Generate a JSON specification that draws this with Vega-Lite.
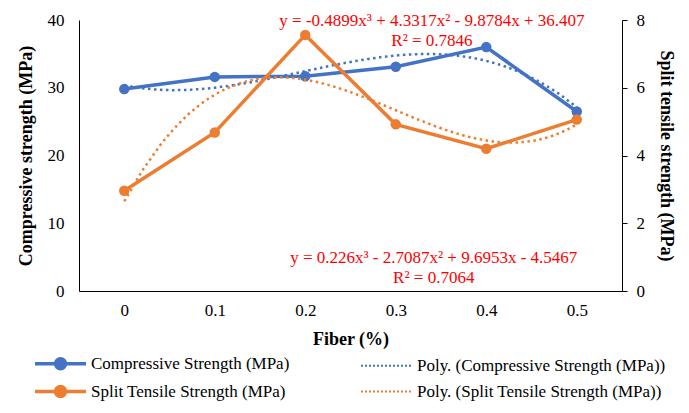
{
  "$schema": "https://vega.github.io/schema/vega-lite/v6.json",
  "width": 543,
  "height": 271,
  "autosize": {"type": "none"},
  "padding": {"left": 79, "top": 20, "right": 67, "bottom": 122},
  "background": "white",
  "datasets": {
    "strength": [
      {"fiber": 0, "compressive": 29.8, "split": 2.96},
      {"fiber": 0.1, "compressive": 31.6, "split": 4.68},
      {"fiber": 0.2, "compressive": 31.7, "split": 7.56},
      {"fiber": 0.3, "compressive": 33.1, "split": 4.92},
      {"fiber": 0.4, "compressive": 36.0, "split": 4.2},
      {"fiber": 0.5, "compressive": 26.5, "split": 5.06}
    ],
    "equations": [
      {"fiber": 0.34, "level": 39.85, "label": "y = -0.4899x³ + 4.3317x² - 9.8784x + 36.407"},
      {"fiber": 0.34, "level": 36.9, "label": "R² = 0.7846"},
      {"fiber": 0.342, "level": 4.87, "label": "y = 0.226x³ - 2.7087x² + 9.6953x - 4.5467"},
      {"fiber": 0.342, "level": 1.9, "label": "R² = 0.7064"}
    ]
  },
  "data": {"name": "strength"},
  "encoding": {
    "x": {
      "field": "fiber",
      "type": "quantitative",
      "scale": {"domain": [-0.05, 0.55], "nice": false, "zero": false},
      "axis": {
        "values": [0, 0.1, 0.2, 0.3, 0.4, 0.5],
        "format": "~g",
        "ticks": false,
        "grid": false,
        "title": "Fiber (%)",
        "labelPadding": 11,
        "titlePadding": 12
      }
    }
  },
  "layer": [
    {
      "encoding": {
        "y": {
          "field": "compressive",
          "type": "quantitative",
          "scale": {"domain": [0, 40], "nice": false},
          "axis": {
            "orient": "left",
            "values": [0, 10, 20, 30, 40],
            "ticks": false,
            "grid": false,
            "title": "Compressive strength (MPa)",
            "labelPadding": 15,
            "titlePadding": 12
          }
        }
      },
      "layer": [
        {
          "mark": {"type": "line", "strokeWidth": 3.5, "point": {"filled": true, "size": 110, "opacity": 1}},
          "encoding": {
            "color": {
              "datum": "Compressive Strength (MPa)",
              "type": "nominal",
              "scale": {
                "domain": [
                  "Compressive Strength (MPa)",
                  "Split Tensile Strength (MPa)",
                  "Poly. (Compressive Strength (MPa))",
                  "Poly. (Split Tensile Strength (MPa))"
                ],
                "range": ["#4472C4", "#ED7D31", "#4472C4", "#ED7D31"]
              },
              "legend": {
                "orient": "none",
                "legendX": -27,
                "legendY": 335,
                "columns": 2,
                "title": null,
                "symbolSize": 100,
                "labelOffset": 22,
                "labelFont": "Liberation Serif",
                "labelFontSize": 17,
                "labelColor": "#000000",
                "columnPadding": 66,
                "rowPadding": 3,
                "labelLimit": 400,
                "encode": {
                  "symbols": {
                    "update": {
                      "shape": {"signal": "test(/^Poly/, datum.value) ? 'M-5.1,0H5.1' : 'M-5.1,0H5.1M-1,0A1,1 0 1,0 1,0A1,1 0 1,0 -1,0'"},
                      "fill": {"signal": "test(/^Poly/, datum.value) ? 'transparent' : (test(/Split/, datum.value) ? '#ED7D31' : '#4472C4')"},
                      "stroke": {"signal": "test(/Split/, datum.value) ? '#ED7D31' : '#4472C4'"},
                      "strokeWidth": {"signal": "test(/^Poly/, datum.value) ? 2.2 : 3.5"},
                      "strokeDash": {"signal": "test(/^Poly/, datum.value) ? [2, 2] : []"},
                      "opacity": {"value": 1}
                    }
                  }
                }
              }
            }
          }
        },
        {
          "transform": [{"regression": "compressive", "on": "fiber", "method": "poly", "order": 3}],
          "mark": {"type": "line", "strokeWidth": 2.5, "strokeDash": [2.5, 3.5]},
          "encoding": {
            "color": {"datum": "Poly. (Compressive Strength (MPa))", "type": "nominal"}
          }
        }
      ]
    },
    {
      "encoding": {
        "y": {
          "field": "split",
          "type": "quantitative",
          "scale": {"domain": [0, 8], "nice": false},
          "axis": {
            "orient": "right",
            "values": [0, 2, 4, 6, 8],
            "ticks": true,
            "tickSize": 5,
            "grid": false,
            "title": "Split tensile strength (MPa)",
            "labelPadding": 9,
            "titlePadding": 12
          }
        }
      },
      "layer": [
        {
          "mark": {"type": "line", "strokeWidth": 3.5, "point": {"filled": true, "size": 110, "opacity": 1}},
          "encoding": {
            "color": {"datum": "Split Tensile Strength (MPa)", "type": "nominal"}
          }
        },
        {
          "transform": [{"regression": "split", "on": "fiber", "method": "poly", "order": 3}],
          "mark": {"type": "line", "strokeWidth": 2.5, "strokeDash": [2.5, 3.5]},
          "encoding": {
            "color": {"datum": "Poly. (Split Tensile Strength (MPa))", "type": "nominal"}
          }
        }
      ]
    },
    {
      "data": {"name": "equations"},
      "mark": {"type": "text", "color": "#FF0000", "fontSize": 17, "font": "Liberation Serif", "align": "center", "baseline": "middle"},
      "encoding": {
        "y": {"field": "level", "type": "quantitative", "scale": {"domain": [0, 40], "nice": false}, "axis": null},
        "text": {"field": "label"}
      }
    }
  ],
  "resolve": {"scale": {"y": "independent"}},
  "config": {
    "font": "Liberation Serif",
    "view": {"stroke": null},
    "axis": {
      "domainColor": "#000000",
      "tickColor": "#000000",
      "labelColor": "#000000",
      "titleColor": "#000000",
      "labelFontSize": 17,
      "titleFontSize": 18,
      "titleFontWeight": "bold",
      "labelFont": "Liberation Serif",
      "titleFont": "Liberation Serif"
    },
    "legend": {
      "labelFont": "Liberation Serif",
      "labelFontSize": 17,
      "labelColor": "#000000"
    }
  }
}
